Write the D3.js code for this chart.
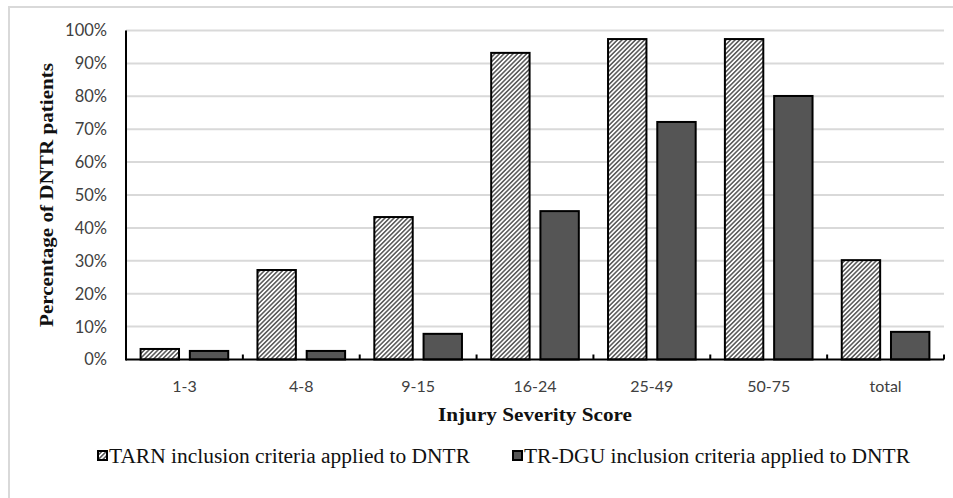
<!DOCTYPE html>
<html>
<head>
<meta charset="utf-8">
<script src="https://cdn.jsdelivr.net/npm/d3@7"></script>
<style>
  html, body { margin: 0; padding: 0; background: #fff; }
  svg { display: block; }
</style>
</head>
<body>
<svg id="chart" width="953" height="498"></svg>
<script>
const categories = ["1-3", "4-8", "9-15", "16-24", "25-49", "50-75", "total"];
const seriesNames = ["TARN inclusion criteria applied to DNTR", "TR-DGU inclusion criteria applied to DNTR"];
const tarnValues = [0.032, 0.272, 0.433, 0.932, 0.974, 0.974, 0.302];
const trdguValues = [0.026, 0.026, 0.078, 0.451, 0.722, 0.801, 0.084];
const yTicks = [0, 0.1, 0.2, 0.3, 0.4, 0.5, 0.6, 0.7, 0.8, 0.9, 1.0];
const xTitle = "Injury Severity Score";
const yTitle = "Percentage of DNTR patients";

(function () {
const svg = d3.select("#chart");
const pLeft = 126, pRight = 944, pTop = 30.5, pBottom = 359.5;

// border
svg.append("rect").attr("x", 9).attr("y", 7).attr("width", 960).attr("height", 520)
  .attr("fill", "none").attr("stroke", "#d9d9d9").attr("stroke-width", 2);

// pattern
const defs = svg.append("defs");
const pat = defs.append("pattern").attr("id", "hatch").attr("patternUnits", "userSpaceOnUse")
  .attr("width", 3.2).attr("height", 3.2).attr("patternTransform", "rotate(45)");
pat.append("rect").attr("width", 3.2).attr("height", 3.2).attr("fill", "#fff");
pat.append("line").attr("x1", 0.8).attr("y1", 0).attr("x2", 0.8).attr("y2", 3.2)
  .attr("stroke", "#3a3a3a").attr("stroke-width", 1.3);

const x = d3.scaleBand().domain(categories).range([pLeft, pRight]).paddingInner(0.25).paddingOuter(0.125);
const xs = d3.scaleBand().domain([0, 1]).range([0, x.bandwidth()]).paddingInner(0.22);
const y = d3.scaleLinear().domain([0, 1]).range([pBottom, pTop]);

// gridlines
svg.append("g").selectAll("line").data(yTicks.filter(d => d > 0)).join("line")
  .attr("x1", pLeft).attr("x2", pRight).attr("y1", d => y(d)).attr("y2", d => y(d))
  .attr("stroke", "#d9d9d9").attr("stroke-width", 2);

// y tick labels
svg.append("g").selectAll("text").data(yTicks).join("text")
  .attr("x", 107).attr("y", d => y(d)).attr("dy", "0.36em").attr("text-anchor", "end")
  .attr("font-family", "Lato, 'Liberation Sans', sans-serif").attr("font-size", 16.5)
  .attr("fill", "#404040").text(d3.format(".0%"));

// bars
const fills = ["url(#hatch)", "#555555"];
const seriesVals = [tarnValues, trdguValues];
seriesVals.forEach((vals, si) => {
  svg.append("g").selectAll("rect").data(categories).join("rect")
    .attr("x", c => x(c) + xs(si))
    .attr("width", xs.bandwidth())
    .attr("y", (c, i) => y(vals[i]))
    .attr("height", (c, i) => y(0) - y(vals[i]))
    .attr("fill", fills[si]).attr("stroke", "#000").attr("stroke-width", 2);
});

// axes lines
svg.append("line").attr("x1", pLeft).attr("x2", pLeft).attr("y1", pTop).attr("y2", pBottom + 1)
  .attr("stroke", "#000").attr("stroke-width", 2);
svg.append("line").attr("x1", pLeft).attr("x2", pRight).attr("y1", pBottom).attr("y2", pBottom)
  .attr("stroke", "#000").attr("stroke-width", 2);
// ticks at band boundaries
const bounds = categories.map(c => x(c) - x.step() * 0.125).concat([pRight]);
svg.append("g").selectAll("line").data(bounds.slice(1)).join("line")
  .attr("x1", d => d).attr("x2", d => d).attr("y1", pBottom - 5).attr("y2", pBottom)
  .attr("stroke", "#000").attr("stroke-width", 2);

// x tick labels
svg.append("g").selectAll("text").data(categories).join("text")
  .attr("x", c => x(c) + x.bandwidth() / 2).attr("y", 392).attr("text-anchor", "middle")
  .attr("font-family", "Lato, 'Liberation Sans', sans-serif").attr("font-size", 16)
  .attr("fill", "#404040").text(c => c);

// x title
svg.append("text").attr("x", (pLeft + pRight) / 2).attr("y", 421).attr("text-anchor", "middle")
  .attr("font-family", "'Liberation Serif', 'Times New Roman', serif").attr("font-weight", "bold")
  .attr("font-size", 19).attr("textLength", 194).attr("lengthAdjust", "spacingAndGlyphs")
  .attr("fill", "#111").text(xTitle);

// y title
svg.append("text").attr("transform", "translate(53,195) rotate(-90)").attr("text-anchor", "middle")
  .attr("font-family", "'Liberation Serif', 'Times New Roman', serif").attr("font-weight", "bold")
  .attr("font-size", 19).attr("textLength", 264).attr("lengthAdjust", "spacingAndGlyphs")
  .attr("fill", "#111").text(yTitle);

// legend
const legendItems = [
  { x: 97, fill: "url(#hatch)", label: seriesNames[0], len: 361 },
  { x: 512, fill: "#555555", label: seriesNames[1], len: 386 }
];
legendItems.forEach(it => {
  svg.append("rect").attr("x", it.x + 1).attr("y", 451).attr("width", 9).attr("height", 9)
    .attr("fill", it.fill).attr("stroke", "#000").attr("stroke-width", 2);
  svg.append("text").attr("x", it.x + 12).attr("y", 463)
    .attr("font-family", "'Liberation Serif', 'Times New Roman', serif")
    .attr("font-size", 20).attr("textLength", it.len).attr("lengthAdjust", "spacingAndGlyphs")
    .attr("fill", "#111").text(it.label);
});
})();
</script>
</body>
</html>
